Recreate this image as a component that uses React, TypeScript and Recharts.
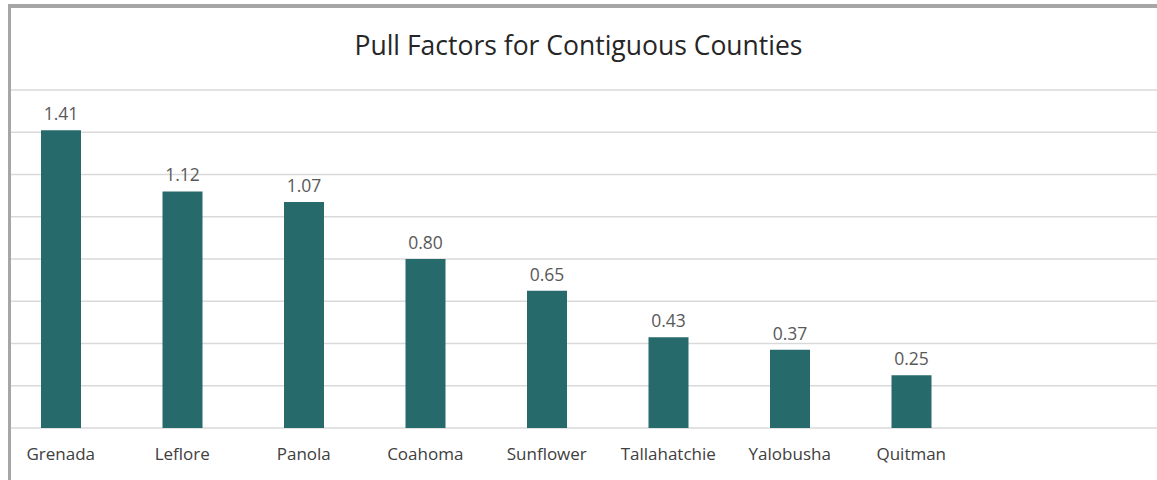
import React from 'react'
import { BarChart, Bar, XAxis, YAxis, CartesianGrid, LabelList } from 'recharts'

const counties = ['Grenada', 'Leflore', 'Panola', 'Coahoma', 'Sunflower', 'Tallahatchie', 'Yalobusha', 'Quitman']
const pullFactors = [1.41, 1.12, 1.07, 0.8, 0.65, 0.43, 0.37, 0.25]
const yTicks = [0, 0.2, 0.4, 0.6, 0.8, 1.0, 1.2, 1.4, 1.6]

const data = counties.map((name, i) => ({ name, value: pullFactors[i] }))

const font = '"Open Sans", "Noto Sans", sans-serif'

export default function App() {
  return (
    <div style={{ position: 'absolute', left: 0, top: 0, width: 1157, height: 480, background: '#fff', overflow: 'hidden', fontFamily: font }}>
      <div style={{ position: 'absolute', left: 0, top: 0 }}>
        <BarChart
          width={1157}
          height={480}
          data={data}
          margin={{ top: 90, right: 0, left: 0, bottom: 22 }}
          barSize={40}
        >
          <CartesianGrid vertical={false} stroke="#d9d9d9" strokeWidth={1.5} />
          <YAxis hide domain={[0, 1.6]} ticks={yTicks} />
          <XAxis
            dataKey="name"
            height={30}
            axisLine={false}
            tickLine={false}
            tickMargin={14}
            padding={{ left: 0, right: 185 }}
            interval={0}
            tick={{ fill: '#404040', fontSize: 17, fontFamily: font }}
          />
          <Bar dataKey="value" fill="#276a6c" isAnimationActive={false}>
            <LabelList
              dataKey="value"
              position="top"
              offset={10}
              formatter={(v: number) => v.toFixed(2)}
              style={{ fill: '#595959', fontSize: 17.5, fontFamily: font }}
            />
          </Bar>
        </BarChart>
      </div>
      <div style={{ position: 'absolute', left: 0, top: 0, width: 8, height: 480, background: '#fff' }} />
      <div style={{ position: 'absolute', left: 8, top: 4, width: 3, height: 476, background: '#a6a6a6' }} />
      <div style={{ position: 'absolute', left: 8, top: 4, width: 1149, height: 4, background: '#a6a6a6' }} />
      <div style={{ position: 'absolute', left: 0, top: 27, width: 1157, textAlign: 'center', fontSize: 26.5, color: '#262626' }}>
        Pull Factors for Contiguous Counties
      </div>
    </div>
  )
}
